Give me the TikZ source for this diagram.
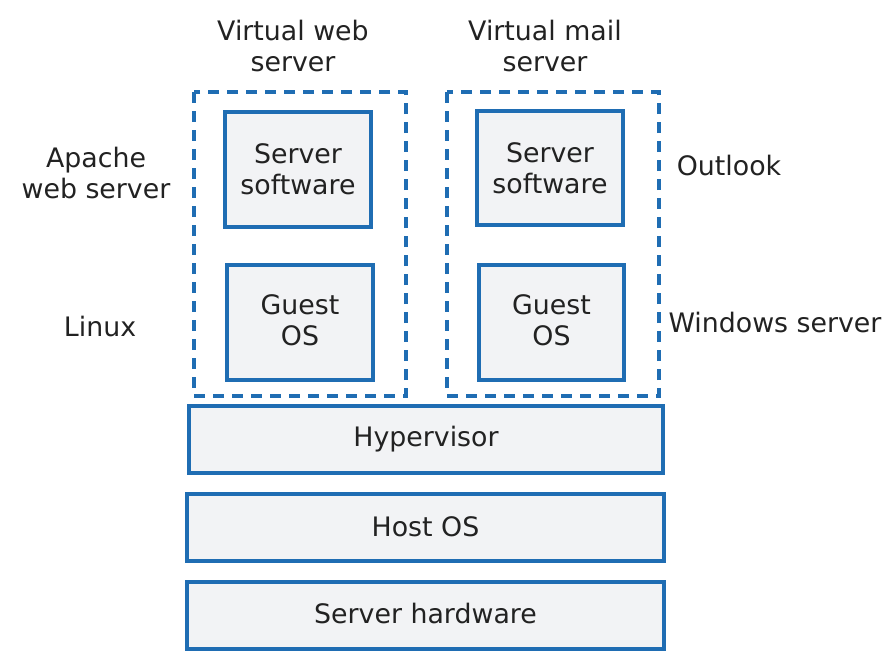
\documentclass[tikz,border=0pt]{standalone}
\usepackage{fontspec}
\setmainfont{DejaVu Sans}
\definecolor{bl}{HTML}{1F6DB3}
\definecolor{fl}{HTML}{F2F3F5}
\definecolor{tx}{HTML}{222222}
\begin{document}
\begin{tikzpicture}[x=1pt,y=-1pt,
  solidbox/.style={draw=bl,fill=fl,line width=3.6pt},
  dashbox/.style={draw=bl,line width=3.6pt,dash pattern=on 11pt off 8pt},
  lbl/.style={text=tx,font=\fontsize{26.8}{31}\selectfont,align=center,inner sep=0pt}]
\useasboundingbox (0,0) rectangle (887,667);
% dashed containers
\draw[dashbox] (194,92) rectangle (406,396);
\draw[dashbox] (447,92) rectangle (659,396);
% inner boxes
\draw[solidbox] (225,112) rectangle (371,227);
\node[lbl] (ss1) at (298,169.5) {Server\\software};
\draw[solidbox] (227,265) rectangle (373,380);
\node[lbl] (go1) at (300,320) {Guest\\OS};
\draw[solidbox] (477,111) rectangle (623,225);
\node[lbl] (ss2) at (550,168) {Server\\software};
\draw[solidbox] (479,265) rectangle (624,380);
\node[lbl] (go2) at (551.5,320) {Guest\\OS};
% layers
\draw[solidbox] (189,406) rectangle (663,473);
\node[lbl] (hyp) at (426,439) {Hypervisor};
\draw[solidbox] (187,494) rectangle (664,561);
\node[lbl] (host) at (425.5,527) {Host OS};
\draw[solidbox] (187,582) rectangle (664,649);
\node[lbl] (hw) at (425.5,614) {Server hardware};
% labels
\node[lbl] (vws) at (293,46) {Virtual web\\server};
\node[lbl] (vms) at (545,46) {Virtual mail\\server};
\node[lbl] (apa) at (96,173) {Apache\\web server};
\node[lbl] (lin) at (100,327) {Linux};
\node[lbl] (out) at (729,166) {Outlook};
\node[lbl] (win) at (775,323) {Windows server};
\end{tikzpicture}
\end{document}
